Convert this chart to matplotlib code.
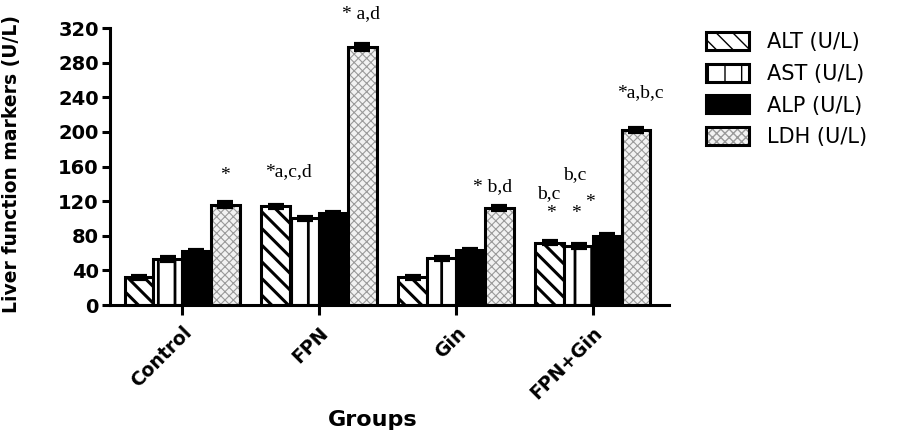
import matplotlib.pyplot as plt
import matplotlib as mpl
import numpy as np
from matplotlib.legend_handler import HandlerTuple

groups = ["Control", "FPN", "Gin", "FPN+Gin"]
markers = ["ALT (U/L)", "AST (U/L)", "ALP (U/L)", "LDH (U/L)"]
alt = [32, 114, 32, 72]
ast = [53, 100, 54, 68]
alp = [62, 106, 63, 80]
ldh = [116, 298, 112, 202]
alt_err = [1.5, 2, 1.5, 2]
ast_err = [2, 2, 2, 2]
alp_err = [2, 2, 2, 2]
ldh_err = [3, 3, 2, 2]

# significance labels: (group index, marker index, text, x offset, y)
notes = [
    (0, 3, "*", 0.0, 150),
    (1, 0, "*a,c,d", 0.09, 154),
    (1, 3, "* a,d", -0.01, 337),
    (2, 3, "* b,d", -0.05, 137),
    (3, 0, "b,c", -0.01, 129),
    (3, 0, "*", 0.01, 106),
    (3, 1, "*", -0.02, 106),
    (3, 2, "b,c", -0.24, 151),
    (3, 2, "*", -0.13, 118),
    (3, 3, "*a,b,c", 0.03, 245),
]

sans = "DejaVu Sans"
serif = "Liberation Serif"

fig = plt.figure(figsize=(9.06, 4.33), dpi=100)
ax = fig.add_axes([0.1214, 0.2956, 0.617, 0.6397])

x = np.arange(len(groups))
w = 0.21
offs = [-1.5 * w, -0.5 * w, 0.5 * w, 1.5 * w]
ekw = dict(ecolor="black", elinewidth=2, capthick=3, capsize=6)

with mpl.rc_context({"hatch.linewidth": 2.2, "hatch.color": "black"}):
    b_alt = ax.bar(x + offs[0], alt, w, yerr=alt_err, facecolor="white",
                   edgecolor="black", linewidth=2.2, hatch="\\\\", error_kw=ekw)
with mpl.rc_context({"hatch.linewidth": 2.0}):
    b_ast = ax.bar(x + offs[1], ast, w, yerr=ast_err, facecolor="white",
                   edgecolor="black", linewidth=2.2, hatch="|", error_kw=ekw)
b_alp = ax.bar(x + offs[2], alp, w, yerr=alp_err, facecolor="black",
               edgecolor="black", linewidth=2.2, error_kw=ekw)
with mpl.rc_context({"hatch.linewidth": 0.8}):
    b_ldh_fill = ax.bar(x + offs[3], ldh, w, facecolor="#f2f2f2",
                        edgecolor="#9a9a9a", linewidth=0, hatch="xxxx")
b_ldh = ax.bar(x + offs[3], ldh, w, yerr=ldh_err, facecolor="none",
               edgecolor="black", linewidth=2.2, error_kw=ekw)

for g, m, txt, dx, yy in notes:
    ax.text(x[g] + offs[m] + dx, yy, txt, ha="center", va="center",
            family=serif, fontsize=14, clip_on=False)

ax.set_xlim(-0.526, 3.555)
ax.set_ylim(0, 320)
ax.set_yticks(np.arange(0, 321, 40))
ax.set_xticks(x)
ax.set_xticklabels(groups, rotation=45, ha="right", rotation_mode="anchor",
                   family=sans, fontweight="bold", fontsize=13.5)
for lab in ax.get_yticklabels():
    lab.set_family(sans)
    lab.set_fontweight("bold")
    lab.set_fontsize(14)
ax.tick_params(axis="x", length=7, width=2.2, pad=6)
ax.tick_params(axis="y", length=6, width=2.2, pad=2)
for s in ["top", "right"]:
    ax.spines[s].set_visible(False)
for s in ["left", "bottom"]:
    ax.spines[s].set_linewidth(2.2)

ax.set_ylabel("Liver function markers (U/L)", family=sans, fontweight="bold",
              fontsize=13.5)
ax.yaxis.set_label_coords(-0.16, 0.51)
ax.set_xlabel("Groups", family=sans, fontweight="bold", fontsize=16)
ax.xaxis.set_label_coords(0.47, -0.38)

handles = [b_alt[0], b_ast[0], b_alp[0], (b_ldh_fill[0], b_ldh[0])]
leg = fig.legend(handles, markers, loc="upper left",
                 bbox_to_anchor=(0.770, 0.945), frameon=False,
                 prop={"family": sans, "size": 15},
                 handlelength=2.05, handleheight=0.95, labelspacing=0.55,
                 handletextpad=0.9, borderaxespad=0,
                 handler_map={tuple: HandlerTuple(ndivide=1, pad=0)})

fig.savefig("out.png", dpi=100)
